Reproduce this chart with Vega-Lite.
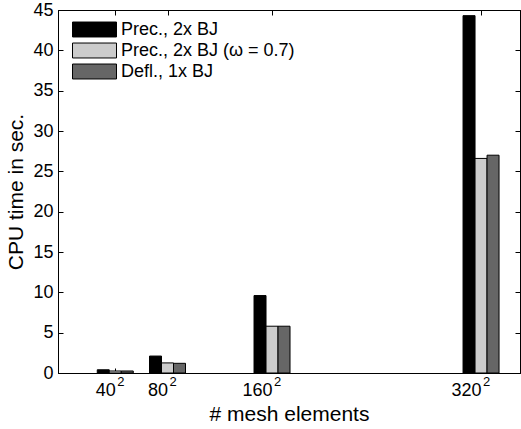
{
  "$schema": "https://vega.github.io/schema/vega-lite/v6.json",
  "width": 462,
  "height": 363,
  "autosize": {"type": "none"},
  "padding": {"left": 58, "top": 10, "right": 1, "bottom": 56},
  "background": "white",
  "config": {
    "font": "Liberation Sans",
    "view": {"stroke": "black", "strokeWidth": 1},
    "axis": {"grid": false, "domainColor": "black", "tickColor": "black", "labelColor": "black", "titleColor": "black", "labelFontSize": 18, "titleFontSize": 21, "titleFontWeight": "normal", "tickSize": -5, "labelFont": "Liberation Sans", "titleFont": "Liberation Sans"}
  },
  "data": {"values": [
    {"mesh": 40, "series": "Prec., 2x BJ", "time": 0.4},
    {"mesh": 40, "series": "Prec., 2x BJ (ω = 0.7)", "time": 0.25},
    {"mesh": 40, "series": "Defl., 1x BJ", "time": 0.25},
    {"mesh": 80, "series": "Prec., 2x BJ", "time": 2.1},
    {"mesh": 80, "series": "Prec., 2x BJ (ω = 0.7)", "time": 1.25},
    {"mesh": 80, "series": "Defl., 1x BJ", "time": 1.2},
    {"mesh": 160, "series": "Prec., 2x BJ", "time": 9.6},
    {"mesh": 160, "series": "Prec., 2x BJ (ω = 0.7)", "time": 5.8},
    {"mesh": 160, "series": "Defl., 1x BJ", "time": 5.8},
    {"mesh": 320, "series": "Prec., 2x BJ", "time": 44.3},
    {"mesh": 320, "series": "Prec., 2x BJ (ω = 0.7)", "time": 26.6},
    {"mesh": 320, "series": "Defl., 1x BJ", "time": 27.0}
  ]},
  "resolve": {"axis": {"x": "independent", "y": "independent"}},
  "layer": [
    {
      "transform": [{"filter": "datum.series === 'Prec., 2x BJ'"}],
      "mark": {"type": "bar", "width": 12, "xOffset": -12, "stroke": "black", "strokeWidth": 1},
      "encoding": {
        "x": {"field": "mesh", "type": "quantitative", "scale": {"domain": [0, 346], "nice": false, "zero": false},
          "axis": {"orient": "bottom", "values": [40, 80, 160, 320], "labelAlign": "right", "labelDx": 6, "title": "# mesh elements", "labelPadding": 13, "titlePadding": 4}},
        "y": {"field": "time", "type": "quantitative", "scale": {"domain": [0, 45], "nice": false},
          "axis": {"orient": "left", "values": [0, 5, 10, 15, 20, 25, 30, 35, 40, 45], "title": "CPU time in sec.", "labelPadding": 10, "titlePadding": 6}},
        "color": {"field": "series", "type": "nominal",
          "scale": {"domain": ["Prec., 2x BJ", "Prec., 2x BJ (ω = 0.7)", "Defl., 1x BJ"], "range": ["#000000", "#cccccc", "#666666"]},
          "legend": {"title": null, "orient": "none", "legendX": 25, "legendY": 8, "padding": 0, "symbolType": "M-2,-0.68H2V0.68H-2Z", "symbolSize": 484, "symbolStrokeColor": "black", "symbolStrokeWidth": 1, "symbolOpacity": 1, "labelFontSize": 18, "labelFont": "Liberation Sans", "labelColor": "black", "labelLimit": 400, "rowPadding": 0, "labelOffset": 15}}
      }
    },
    {
      "transform": [{"filter": "datum.series === 'Prec., 2x BJ (ω = 0.7)'"}],
      "mark": {"type": "bar", "width": 12, "xOffset": 0, "stroke": "black", "strokeWidth": 1},
      "encoding": {
        "x": {"field": "mesh", "type": "quantitative", "axis": {"orient": "top", "values": [40, 80, 160, 320], "labels": false, "title": null}},
        "y": {"field": "time", "type": "quantitative", "axis": {"orient": "right", "values": [0, 5, 10, 15, 20, 25, 30, 35, 40, 45], "labels": false, "title": null}},
        "color": {"field": "series", "type": "nominal"}
      }
    },
    {
      "transform": [{"filter": "datum.series === 'Defl., 1x BJ'"}],
      "mark": {"type": "bar", "width": 12, "xOffset": 12, "stroke": "black", "strokeWidth": 1},
      "encoding": {
        "x": {"field": "mesh", "type": "quantitative", "axis": null},
        "y": {"field": "time", "type": "quantitative", "axis": null},
        "color": {"field": "series", "type": "nominal"}
      }
    },
    {
      "transform": [{"filter": "datum.series === 'Prec., 2x BJ'"}],
      "mark": {"type": "text", "text": "2", "align": "left", "baseline": "middle", "dx": 2, "dy": 9, "fontSize": 13, "font": "Liberation Sans", "color": "black"},
      "encoding": {
        "x": {"field": "mesh", "type": "quantitative", "axis": null},
        "y": {"datum": 0, "type": "quantitative", "axis": null}
      }
    }
  ]
}
